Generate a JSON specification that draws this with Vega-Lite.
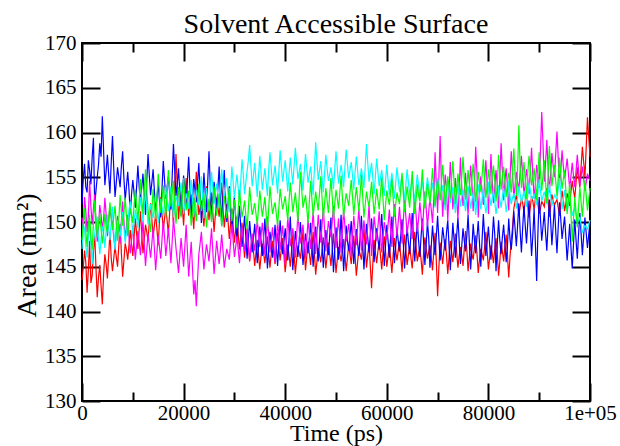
{
"$schema": "https://vega.github.io/schema/vega-lite/v6.json",
"width": 508, "height": 358,
"autosize": {"type": "none"},
"padding": {"left": 82, "top": 43, "right": 30, "bottom": 45},
"background": "white",
"config": {
 "view": {"stroke": "black", "strokeWidth": 2},
 "font": "Liberation Serif",
 "axis": {"domain": false, "grid": false, "tickColor": "black", "tickWidth": 2, "zindex": 1,
  "labelFont": "Liberation Serif", "labelFontSize": 21, "labelColor": "black",
  "titleFont": "Liberation Serif", "titleFontWeight": "normal", "titleColor": "black",
  "labelFlush": false, "labelOverlap": false, "labelBound": false}
},
"title": {"text": "Solvent Accessible Surface", "font": "Liberation Serif", "fontSize": 28, "fontWeight": "normal", "color": "black", "offset": -7},
"data": {"values": [
{"t":0,"r":143.5,"b":152.0,"m":150.5,"c":147.0,"g":148.0},
{"t":250,"r":144.9,"b":154.8,"m":149.3,"c":149.8,"g":149.7},
{"t":500,"r":146.8,"b":156.5,"m":152.8,"c":149.2,"g":151.5},
{"t":750,"r":145.5,"b":153.9,"m":151.2,"c":147.4,"g":149.0},
{"t":1000,"r":142.1,"b":153.3,"m":148.9,"c":146.0,"g":147.2},
{"t":1250,"r":144.6,"b":156.9,"m":150.6,"c":148.5,"g":149.6},
{"t":1500,"r":147.9,"b":155.8,"m":154.6,"c":150.1,"g":150.8},
{"t":1750,"r":143.2,"b":154.2,"m":151.8,"c":147.6,"g":148.2},
{"t":2000,"r":144.0,"b":157.2,"m":149.7,"c":145.3,"g":146.9},
{"t":2250,"r":146.7,"b":159.4,"m":151.5,"c":147.8,"g":149.9},
{"t":2500,"r":148.6,"b":151.9,"m":153.1,"c":148.7,"g":152.4},
{"t":2750,"r":144.9,"b":153.5,"m":150.0,"c":149.9,"g":150.2},
{"t":3000,"r":141.6,"b":155.0,"m":147.8,"c":150.6,"g":148.3},
{"t":3250,"r":143.8,"b":156.4,"m":149.5,"c":148.2,"g":149.8},
{"t":3500,"r":145.2,"b":158.8,"m":151.9,"c":146.4,"g":151.0},
{"t":3750,"r":142.9,"b":157.3,"m":150.8,"c":148.0,"g":149.2},
{"t":4000,"r":140.8,"b":161.8,"m":149.2,"c":149.5,"g":147.6},
{"t":4250,"r":144.1,"b":158.0,"m":150.3,"c":148.8,"g":148.9},
{"t":4500,"r":146.4,"b":154.1,"m":152.7,"c":147.1,"g":150.9},
{"t":4750,"r":145.3,"b":155.7,"m":150.9,"c":149.0,"g":149.5},
{"t":5000,"r":143.7,"b":157.5,"m":148.4,"c":150.8,"g":148.8},
{"t":5250,"r":146.2,"b":155.3,"m":150.1,"c":149.3,"g":150.5},
{"t":5500,"r":148.9,"b":153.2,"m":151.6,"c":148.0,"g":152.2},
{"t":5750,"r":146.0,"b":156.6,"m":150.5,"c":149.8,"g":150.4},
{"t":6000,"r":144.5,"b":159.6,"m":149.9,"c":151.7,"g":149.1},
{"t":6250,"r":145.9,"b":156.0,"m":148.3,"c":149.0,"g":150.6},
{"t":6500,"r":147.3,"b":152.8,"m":146.9,"c":146.9,"g":151.8},
{"t":6750,"r":146.1,"b":154.4,"m":149.2,"c":148.5,"g":149.7},
{"t":7000,"r":145.0,"b":156.1,"m":150.7,"c":150.2,"g":147.9},
{"t":7250,"r":147.4,"b":155.0,"m":149.0,"c":149.1,"g":150.3},
{"t":7500,"r":149.8,"b":153.9,"m":147.6,"c":148.4,"g":153.0},
{"t":7750,"r":146.6,"b":156.2,"m":150.1,"c":149.9,"g":151.1},
{"t":8000,"r":143.9,"b":157.9,"m":152.3,"c":151.1,"g":149.6},
{"t":8250,"r":145.7,"b":154.9,"m":150.2,"c":149.4,"g":151.0},
{"t":8500,"r":147.6,"b":152.4,"m":148.1,"c":147.7,"g":152.7},
{"t":8750,"r":146.9,"b":154.0,"m":149.5,"c":148.8,"g":150.6},
{"t":9000,"r":145.8,"b":155.6,"m":150.8,"c":150.0,"g":148.4},
{"t":9250,"r":147.4,"b":153.6,"m":148.3,"c":151.3,"g":150.1},
{"t":9500,"r":149.1,"b":150.9,"m":146.5,"c":152.3,"g":151.5},
{"t":9750,"r":147.5,"b":153.1,"m":148.0,"c":150.4,"g":150.8},
{"t":10000,"r":146.2,"b":154.7,"m":149.6,"c":148.6,"g":149.9},
{"t":10250,"r":148.3,"b":153.3,"m":147.7,"c":150.0,"g":151.9},
{"t":10500,"r":150.4,"b":151.6,"m":145.8,"c":151.4,"g":153.6},
{"t":10750,"r":148.7,"b":153.9,"m":147.4,"c":150.5,"g":151.8},
{"t":11000,"r":147.0,"b":156.3,"m":149.0,"c":149.3,"g":150.2},
{"t":11250,"r":149.1,"b":154.0,"m":147.8,"c":151.0,"g":152.3},
{"t":11500,"r":151.2,"b":152.1,"m":146.3,"c":152.8,"g":154.8},
{"t":11750,"r":148.8,"b":153.8,"m":148.0,"c":151.5,"g":152.6},
{"t":12000,"r":146.5,"b":155.4,"m":150.2,"c":150.0,"g":150.9},
{"t":12250,"r":148.0,"b":153.2,"m":147.5,"c":151.9,"g":153.4},
{"t":12500,"r":149.7,"b":150.8,"m":145.1,"c":153.5,"g":155.9},
{"t":12750,"r":148.9,"b":154.6,"m":146.9,"c":151.6,"g":153.5},
{"t":13000,"r":147.9,"b":157.6,"m":148.7,"c":149.7,"g":151.4},
{"t":13250,"r":150.0,"b":155.2,"m":147.3,"c":150.8,"g":150.1},
{"t":13500,"r":152.1,"b":153.0,"m":146.0,"c":152.0,"g":148.9},
{"t":13750,"r":150.3,"b":154.4,"m":147.6,"c":151.1,"g":151.3},
{"t":14000,"r":148.3,"b":155.9,"m":149.4,"c":150.4,"g":153.7},
{"t":14250,"r":149.6,"b":153.5,"m":147.0,"c":151.8,"g":152.0},
{"t":14500,"r":150.9,"b":151.2,"m":144.6,"c":153.1,"g":150.3},
{"t":14750,"r":149.2,"b":152.7,"m":146.6,"c":151.5,"g":152.8},
{"t":15000,"r":147.4,"b":154.3,"m":148.5,"c":149.9,"g":155.4},
{"t":15250,"r":150.1,"b":152.4,"m":147.2,"c":151.3,"g":153.3},
{"t":15500,"r":152.8,"b":150.5,"m":145.9,"c":152.6,"g":151.0},
{"t":15750,"r":151.0,"b":153.7,"m":148.0,"c":151.6,"g":152.5},
{"t":16000,"r":149.1,"b":156.8,"m":150.1,"c":150.7,"g":154.1},
{"t":16250,"r":150.4,"b":154.7,"m":148.3,"c":152.2,"g":152.2},
{"t":16500,"r":151.6,"b":152.6,"m":146.2,"c":153.9,"g":150.6},
{"t":16750,"r":150.2,"b":153.9,"m":147.7,"c":152.5,"g":153.1},
{"t":17000,"r":148.7,"b":155.1,"m":149.3,"c":151.2,"g":155.8},
{"t":17250,"r":151.0,"b":153.3,"m":147.4,"c":152.6,"g":153.6},
{"t":17500,"r":153.4,"b":151.4,"m":145.4,"c":154.0,"g":151.7},
{"t":17750,"r":151.7,"b":155.0,"m":147.8,"c":152.2,"g":153.2},
{"t":18000,"r":149.9,"b":158.7,"m":150.4,"c":150.5,"g":154.6},
{"t":18250,"r":154.2,"b":155.8,"m":148.8,"c":151.7,"g":152.1},
{"t":18500,"r":157.6,"b":152.9,"m":147.1,"c":152.9,"g":149.8},
{"t":18750,"r":153.9,"b":154.3,"m":145.7,"c":152.3,"g":151.9},
{"t":19000,"r":150.3,"b":156.0,"m":144.3,"c":151.8,"g":153.9},
{"t":19250,"r":152.1,"b":153.4,"m":146.3,"c":153.1,"g":152.3},
{"t":19500,"r":153.8,"b":150.7,"m":148.2,"c":154.4,"g":150.5},
{"t":19750,"r":151.7,"b":152.9,"m":146.6,"c":152.7,"g":152.7},
{"t":20000,"r":149.6,"b":155.2,"m":145.0,"c":150.9,"g":154.9},
{"t":20250,"r":152.3,"b":153.6,"m":147.3,"c":152.0,"g":153.1},
{"t":20500,"r":154.9,"b":151.9,"m":149.7,"c":153.2,"g":151.3},
{"t":20750,"r":152.8,"b":154.6,"m":146.8,"c":152.4,"g":152.4},
{"t":21000,"r":150.7,"b":157.3,"m":143.9,"c":151.5,"g":153.5},
{"t":21250,"r":151.9,"b":153.8,"m":145.9,"c":153.1,"g":151.5},
{"t":21500,"r":153.1,"b":150.4,"m":147.8,"c":154.7,"g":149.6},
{"t":21750,"r":151.2,"b":152.5,"m":144.8,"c":152.6,"g":151.2},
{"t":22000,"r":149.2,"b":154.8,"m":141.9,"c":150.6,"g":152.8},
{"t":22250,"r":152.4,"b":153.5,"m":143.5,"c":152.1,"g":151.4},
{"t":22500,"r":155.6,"b":152.2,"m":140.6,"c":153.6,"g":150.1},
{"t":22750,"r":153.2,"b":154.4,"m":143.6,"c":152.7,"g":152.2},
{"t":23000,"r":150.8,"b":156.6,"m":146.4,"c":151.9,"g":154.3},
{"t":23250,"r":151.6,"b":153.3,"m":147.6,"c":153.5,"g":152.7},
{"t":23500,"r":152.4,"b":149.9,"m":148.9,"c":155.1,"g":151.2},
{"t":23750,"r":151.0,"b":152.7,"m":146.7,"c":152.8,"g":152.1},
{"t":24000,"r":149.5,"b":155.5,"m":144.7,"c":150.4,"g":153.1},
{"t":24250,"r":151.7,"b":153.3,"m":146.1,"c":152.1,"g":151.3},
{"t":24500,"r":154.0,"b":151.1,"m":147.5,"c":153.8,"g":149.4},
{"t":24750,"r":152.1,"b":154.5,"m":146.6,"c":152.5,"g":151.0},
{"t":25000,"r":150.2,"b":157.9,"m":145.6,"c":151.3,"g":152.6},
{"t":25250,"r":151.8,"b":154.1,"m":147.4,"c":153.4,"g":151.3},
{"t":25500,"r":153.3,"b":150.3,"m":149.3,"c":155.6,"g":150.0},
{"t":25750,"r":151.1,"b":152.4,"m":146.7,"c":153.8,"g":152.0},
{"t":26000,"r":148.9,"b":154.5,"m":144.2,"c":152.0,"g":154.0},
{"t":26250,"r":150.8,"b":153.0,"m":146.0,"c":153.2,"g":152.3},
{"t":26500,"r":152.7,"b":151.5,"m":147.9,"c":154.3,"g":150.7},
{"t":26750,"r":151.6,"b":153.8,"m":146.6,"c":153.0,"g":151.9},
{"t":27000,"r":150.6,"b":156.2,"m":145.3,"c":151.6,"g":153.2},
{"t":27250,"r":152.5,"b":152.9,"m":146.9,"c":153.7,"g":151.4},
{"t":27500,"r":154.4,"b":149.6,"m":148.6,"c":155.9,"g":149.5},
{"t":27750,"r":151.9,"b":152.7,"m":146.8,"c":154.2,"g":151.2},
{"t":28000,"r":149.4,"b":155.8,"m":144.9,"c":152.4,"g":152.9},
{"t":28250,"r":150.7,"b":152.9,"m":146.0,"c":153.6,"g":151.6},
{"t":28500,"r":152.0,"b":150.0,"m":147.0,"c":154.9,"g":150.4},
{"t":28750,"r":150.1,"b":152.0,"m":146.4,"c":153.0,"g":152.1},
{"t":29000,"r":148.1,"b":154.0,"m":145.8,"c":151.1,"g":153.8},
{"t":29250,"r":149.8,"b":151.4,"m":147.8,"c":153.6,"g":151.9},
{"t":29500,"r":151.5,"b":148.8,"m":149.8,"c":156.2,"g":150.1},
{"t":29750,"r":149.6,"b":150.8,"m":148.0,"c":154.5,"g":151.3},
{"t":30000,"r":147.7,"b":152.9,"m":146.1,"c":152.7,"g":152.5},
{"t":30250,"r":149.1,"b":150.4,"m":147.2,"c":154.0,"g":150.9},
{"t":30500,"r":150.6,"b":147.9,"m":148.4,"c":155.3,"g":149.3},
{"t":30750,"r":148.7,"b":149.9,"m":146.9,"c":153.8,"g":151.4},
{"t":31000,"r":146.9,"b":151.8,"m":145.4,"c":152.2,"g":153.6},
{"t":31250,"r":148.4,"b":149.5,"m":147.5,"c":154.6,"g":152.0},
{"t":31500,"r":149.9,"b":147.2,"m":149.5,"c":157.0,"g":150.5},
{"t":31750,"r":147.9,"b":148.9,"m":148.1,"c":155.3,"g":151.4},
{"t":32000,"r":146.0,"b":150.7,"m":146.7,"c":153.1,"g":152.4},
{"t":32250,"r":147.6,"b":148.3,"m":147.9,"c":154.4,"g":150.8},
{"t":32500,"r":149.3,"b":145.9,"m":149.1,"c":155.7,"g":149.2},
{"t":32750,"r":147.4,"b":148.0,"m":147.4,"c":156.9,"g":151.5},
{"t":33000,"r":145.6,"b":150.1,"m":145.7,"c":158.6,"g":153.9},
{"t":33250,"r":147.0,"b":148.4,"m":147.2,"c":156.3,"g":152.3},
{"t":33500,"r":148.5,"b":146.6,"m":148.7,"c":154.0,"g":150.8},
{"t":33750,"r":146.8,"b":148.2,"m":147.7,"c":155.2,"g":151.4},
{"t":34000,"r":145.1,"b":149.8,"m":146.8,"c":156.6,"g":152.1},
{"t":34250,"r":146.6,"b":147.6,"m":148.5,"c":154.7,"g":150.9},
{"t":34500,"r":148.0,"b":145.4,"m":150.2,"c":152.8,"g":149.7},
{"t":34750,"r":146.3,"b":147.4,"m":148.7,"c":155.1,"g":151.6},
{"t":35000,"r":144.7,"b":149.5,"m":147.2,"c":157.4,"g":153.5},
{"t":35250,"r":146.2,"b":147.9,"m":148.6,"c":155.5,"g":152.0},
{"t":35500,"r":147.6,"b":146.2,"m":149.9,"c":153.6,"g":150.6},
{"t":35750,"r":146.5,"b":148.3,"m":148.1,"c":154.8,"g":151.7},
{"t":36000,"r":145.4,"b":150.4,"m":146.3,"c":156.0,"g":152.8},
{"t":36250,"r":146.9,"b":147.5,"m":148.4,"c":154.5,"g":150.9},
{"t":36500,"r":148.4,"b":144.8,"m":150.6,"c":152.9,"g":149.0},
{"t":36750,"r":146.4,"b":146.9,"m":148.6,"c":155.8,"g":151.5},
{"t":37000,"r":144.9,"b":148.9,"m":146.6,"c":157.8,"g":154.0},
{"t":37250,"r":146.4,"b":147.5,"m":148.0,"c":156.0,"g":152.4},
{"t":37500,"r":147.9,"b":146.0,"m":149.4,"c":154.1,"g":150.9},
{"t":37750,"r":146.6,"b":147.8,"m":147.5,"c":155.2,"g":151.6},
{"t":38000,"r":145.3,"b":149.7,"m":145.5,"c":156.3,"g":152.2},
{"t":38250,"r":147.0,"b":147.4,"m":147.8,"c":154.8,"g":150.9},
{"t":38500,"r":148.8,"b":145.1,"m":150.0,"c":153.2,"g":149.6},
{"t":38750,"r":147.2,"b":147.6,"m":148.5,"c":155.6,"g":151.6},
{"t":39000,"r":145.7,"b":150.2,"m":146.9,"c":158.0,"g":153.7},
{"t":39250,"r":147.0,"b":148.3,"m":148.3,"c":156.2,"g":152.5},
{"t":39500,"r":148.2,"b":146.4,"m":149.6,"c":154.5,"g":151.4},
{"t":39750,"r":146.3,"b":147.8,"m":147.4,"c":155.7,"g":152.1},
{"t":40000,"r":144.4,"b":149.3,"m":145.2,"c":156.9,"g":152.9},
{"t":40250,"r":145.9,"b":147.5,"m":147.9,"c":155.2,"g":151.5},
{"t":40500,"r":147.5,"b":145.7,"m":150.5,"c":153.4,"g":150.2},
{"t":40750,"r":146.3,"b":148.1,"m":148.9,"c":155.3,"g":152.3},
{"t":41000,"r":145.0,"b":150.6,"m":147.3,"c":157.2,"g":154.4},
{"t":41250,"r":146.8,"b":147.6,"m":148.3,"c":155.7,"g":152.8},
{"t":41500,"r":148.6,"b":144.6,"m":149.3,"c":154.2,"g":151.1},
{"t":41750,"r":146.4,"b":146.8,"m":147.7,"c":156.3,"g":152.2},
{"t":42000,"r":144.2,"b":149.0,"m":146.0,"c":158.3,"g":153.3},
{"t":42250,"r":145.8,"b":147.6,"m":148.4,"c":156.6,"g":151.7},
{"t":42500,"r":147.3,"b":146.1,"m":150.9,"c":154.8,"g":150.0},
{"t":42750,"r":146.6,"b":148.0,"m":149.2,"c":155.6,"g":152.8},
{"t":43000,"r":145.9,"b":150.0,"m":147.6,"c":156.5,"g":155.6},
{"t":43250,"r":147.4,"b":147.7,"m":148.6,"c":155.0,"g":153.6},
{"t":43500,"r":149.0,"b":145.2,"m":149.7,"c":153.5,"g":151.6},
{"t":43750,"r":146.8,"b":146.9,"m":147.8,"c":155.6,"g":152.3},
{"t":44000,"r":144.6,"b":148.7,"m":145.9,"c":157.6,"g":153.0},
{"t":44250,"r":146.2,"b":147.6,"m":148.1,"c":156.0,"g":151.5},
{"t":44500,"r":147.8,"b":146.5,"m":150.3,"c":154.4,"g":149.9},
{"t":44750,"r":146.5,"b":148.2,"m":148.7,"c":155.3,"g":152.2},
{"t":45000,"r":145.2,"b":149.9,"m":147.0,"c":156.2,"g":154.6},
{"t":45250,"r":147.0,"b":147.5,"m":149.1,"c":154.6,"g":152.6},
{"t":45500,"r":148.9,"b":145.0,"m":151.1,"c":153.0,"g":150.7},
{"t":45750,"r":146.5,"b":147.2,"m":148.8,"c":156.0,"g":152.0},
{"t":46000,"r":144.1,"b":149.5,"m":146.4,"c":158.9,"g":153.4},
{"t":46250,"r":145.6,"b":147.6,"m":148.6,"c":156.8,"g":152.3},
{"t":46500,"r":147.1,"b":145.6,"m":150.8,"c":154.7,"g":151.3},
{"t":46750,"r":146.3,"b":147.9,"m":149.2,"c":155.7,"g":153.2},
{"t":47000,"r":145.5,"b":150.3,"m":147.7,"c":156.8,"g":155.1},
{"t":47250,"r":146.9,"b":147.6,"m":149.7,"c":155.0,"g":152.7},
{"t":47500,"r":148.3,"b":144.9,"m":151.6,"c":153.3,"g":150.4},
{"t":47750,"r":146.6,"b":147.0,"m":149.2,"c":155.4,"g":152.0},
{"t":48000,"r":144.8,"b":149.1,"m":146.7,"c":157.5,"g":153.8},
{"t":48250,"r":146.2,"b":147.7,"m":148.4,"c":156.0,"g":152.4},
{"t":48500,"r":147.7,"b":146.3,"m":150.1,"c":154.6,"g":151.0},
{"t":48750,"r":146.4,"b":148.4,"m":149.2,"c":155.3,"g":153.0},
{"t":49000,"r":145.1,"b":150.5,"m":148.3,"c":156.1,"g":154.9},
{"t":49250,"r":146.9,"b":147.5,"m":150.0,"c":155.1,"g":152.9},
{"t":49500,"r":148.7,"b":144.4,"m":151.8,"c":153.7,"g":150.3},
{"t":49750,"r":146.5,"b":146.9,"m":149.4,"c":155.8,"g":152.0},
{"t":50000,"r":144.3,"b":149.4,"m":147.1,"c":157.9,"g":153.6},
{"t":50250,"r":145.8,"b":147.6,"m":148.8,"c":156.1,"g":152.6},
{"t":50500,"r":147.2,"b":145.8,"m":150.4,"c":154.3,"g":151.5},
{"t":50750,"r":146.4,"b":148.2,"m":148.5,"c":155.4,"g":153.3},
{"t":51000,"r":145.6,"b":150.8,"m":146.5,"c":156.4,"g":155.2},
{"t":51250,"r":146.8,"b":147.7,"m":149.0,"c":155.2,"g":152.8},
{"t":51500,"r":148.1,"b":144.5,"m":151.3,"c":153.9,"g":150.6},
{"t":51750,"r":146.3,"b":147.0,"m":149.6,"c":156.0,"g":152.0},
{"t":52000,"r":144.5,"b":149.6,"m":147.8,"c":158.1,"g":153.2},
{"t":52250,"r":146.0,"b":147.9,"m":148.8,"c":156.5,"g":152.5},
{"t":52500,"r":147.4,"b":146.8,"m":149.8,"c":154.9,"g":151.8},
{"t":52750,"r":146.4,"b":148.5,"m":148.0,"c":155.8,"g":153.3},
{"t":53000,"r":145.3,"b":150.1,"m":146.1,"c":156.7,"g":154.7},
{"t":53250,"r":146.9,"b":147.8,"m":148.5,"c":155.2,"g":152.8},
{"t":53500,"r":148.5,"b":145.3,"m":150.7,"c":153.6,"g":150.8},
{"t":53750,"r":146.3,"b":147.2,"m":149.1,"c":155.5,"g":152.4},
{"t":54000,"r":144.0,"b":149.2,"m":147.4,"c":157.3,"g":153.9},
{"t":54250,"r":145.5,"b":147.7,"m":149.4,"c":155.7,"g":152.6},
{"t":54500,"r":147.0,"b":146.2,"m":151.5,"c":154.1,"g":151.2},
{"t":54750,"r":146.4,"b":148.4,"m":149.1,"c":155.0,"g":153.1},
{"t":55000,"r":145.8,"b":150.7,"m":146.8,"c":156.0,"g":155.3},
{"t":55250,"r":147.4,"b":147.6,"m":148.5,"c":154.9,"g":152.9},
{"t":55500,"r":149.3,"b":144.7,"m":150.2,"c":153.8,"g":150.5},
{"t":55750,"r":147.2,"b":147.3,"m":148.8,"c":156.2,"g":151.9},
{"t":56000,"r":144.9,"b":149.8,"m":147.5,"c":158.7,"g":153.4},
{"t":56250,"r":146.3,"b":148.2,"m":149.6,"c":156.6,"g":152.5},
{"t":56500,"r":147.6,"b":146.6,"m":151.9,"c":154.5,"g":151.7},
{"t":56750,"r":145.1,"b":148.6,"m":149.0,"c":155.6,"g":153.0},
{"t":57000,"r":142.6,"b":150.4,"m":146.2,"c":156.6,"g":154.5},
{"t":57250,"r":145.3,"b":148.0,"m":148.4,"c":154.9,"g":152.7},
{"t":57500,"r":148.0,"b":145.5,"m":150.6,"c":153.1,"g":150.9},
{"t":57750,"r":146.6,"b":147.4,"m":149.3,"c":155.1,"g":152.2},
{"t":58000,"r":145.4,"b":149.3,"m":147.9,"c":157.1,"g":153.7},
{"t":58250,"r":146.7,"b":148.1,"m":149.5,"c":155.6,"g":152.5},
{"t":58500,"r":147.9,"b":146.9,"m":151.2,"c":154.0,"g":151.4},
{"t":58750,"r":146.3,"b":148.9,"m":148.9,"c":154.9,"g":153.2},
{"t":59000,"r":144.7,"b":150.9,"m":146.6,"c":155.8,"g":155.0},
{"t":59250,"r":146.5,"b":148.0,"m":148.3,"c":154.4,"g":152.6},
{"t":59500,"r":148.4,"b":145.1,"m":150.0,"c":152.9,"g":150.2},
{"t":59750,"r":146.7,"b":147.4,"m":149.0,"c":154.6,"g":151.9},
{"t":60000,"r":145.0,"b":149.7,"m":148.0,"c":156.4,"g":153.5},
{"t":60250,"r":146.2,"b":147.9,"m":149.7,"c":154.7,"g":152.7},
{"t":60500,"r":147.5,"b":146.0,"m":151.4,"c":153.0,"g":151.9},
{"t":60750,"r":145.9,"b":148.3,"m":149.3,"c":154.3,"g":153.4},
{"t":61000,"r":144.3,"b":150.6,"m":147.2,"c":155.5,"g":154.8},
{"t":61250,"r":146.3,"b":148.0,"m":149.6,"c":154.0,"g":152.7},
{"t":61500,"r":148.2,"b":145.4,"m":152.0,"c":152.6,"g":150.6},
{"t":61750,"r":146.9,"b":147.3,"m":150.2,"c":154.4,"g":152.0},
{"t":62000,"r":145.7,"b":149.2,"m":148.4,"c":156.1,"g":153.3},
{"t":62250,"r":146.8,"b":147.9,"m":150.0,"c":154.8,"g":152.6},
{"t":62500,"r":147.8,"b":146.7,"m":151.7,"c":153.4,"g":152.0},
{"t":62750,"r":146.1,"b":148.5,"m":149.6,"c":154.3,"g":153.7},
{"t":63000,"r":144.4,"b":150.3,"m":147.6,"c":155.2,"g":155.5},
{"t":63250,"r":146.6,"b":147.6,"m":150.1,"c":153.8,"g":153.2},
{"t":63500,"r":148.6,"b":144.8,"m":152.5,"c":152.4,"g":151.1},
{"t":63750,"r":146.9,"b":147.2,"m":150.6,"c":154.2,"g":152.6},
{"t":64000,"r":145.2,"b":149.5,"m":148.7,"c":155.9,"g":154.0},
{"t":64250,"r":146.3,"b":147.8,"m":149.9,"c":154.5,"g":152.8},
{"t":64500,"r":147.3,"b":146.4,"m":151.0,"c":153.0,"g":151.6},
{"t":64750,"r":146.0,"b":148.6,"m":149.5,"c":153.9,"g":153.6},
{"t":65000,"r":144.8,"b":151.0,"m":148.1,"c":154.8,"g":155.7},
{"t":65250,"r":146.9,"b":148.2,"m":150.5,"c":153.6,"g":153.1},
{"t":65500,"r":148.9,"b":145.6,"m":153.0,"c":152.2,"g":150.9},
{"t":65750,"r":147.3,"b":147.8,"m":150.9,"c":153.9,"g":152.4},
{"t":66000,"r":145.6,"b":149.9,"m":148.9,"c":155.3,"g":154.2},
{"t":66250,"r":146.4,"b":148.0,"m":150.3,"c":154.1,"g":153.0},
{"t":66500,"r":147.1,"b":146.1,"m":152.2,"c":152.7,"g":152.3},
{"t":66750,"r":145.8,"b":148.4,"m":150.7,"c":153.5,"g":153.8},
{"t":67000,"r":144.1,"b":150.4,"m":149.0,"c":154.6,"g":155.9},
{"t":67250,"r":146.6,"b":147.7,"m":151.3,"c":153.3,"g":153.4},
{"t":67500,"r":148.3,"b":145.2,"m":153.4,"c":151.9,"g":151.5},
{"t":67750,"r":147.0,"b":147.5,"m":151.6,"c":153.7,"g":152.8},
{"t":68000,"r":145.9,"b":150.0,"m":149.5,"c":155.0,"g":154.3},
{"t":68250,"r":146.7,"b":148.2,"m":151.1,"c":153.9,"g":153.2},
{"t":68500,"r":147.4,"b":144.9,"m":152.8,"c":152.3,"g":152.1},
{"t":68750,"r":146.0,"b":147.3,"m":151.4,"c":153.4,"g":154.0},
{"t":69000,"r":144.6,"b":149.6,"m":149.9,"c":154.4,"g":156.0},
{"t":69250,"r":146.8,"b":147.8,"m":152.7,"c":153.1,"g":153.9},
{"t":69500,"r":148.8,"b":146.3,"m":157.8,"c":151.6,"g":151.8},
{"t":69750,"r":145.6,"b":148.4,"m":154.2,"c":153.5,"g":153.1},
{"t":70000,"r":141.7,"b":150.7,"m":151.0,"c":154.9,"g":154.6},
{"t":70250,"r":144.9,"b":148.1,"m":155.0,"c":153.8,"g":153.6},
{"t":70500,"r":147.7,"b":145.7,"m":159.6,"c":152.5,"g":152.4},
{"t":70750,"r":146.5,"b":147.5,"m":154.4,"c":153.2,"g":154.3},
{"t":71000,"r":145.3,"b":149.4,"m":150.6,"c":154.1,"g":156.4},
{"t":71250,"r":146.9,"b":148.2,"m":153.1,"c":152.8,"g":154.2},
{"t":71500,"r":148.1,"b":146.8,"m":155.3,"c":151.3,"g":151.9},
{"t":71750,"r":146.3,"b":148.8,"m":153.7,"c":153.4,"g":153.5},
{"t":72000,"r":144.2,"b":150.2,"m":150.1,"c":154.7,"g":155.1},
{"t":72250,"r":146.0,"b":147.4,"m":153.4,"c":153.3,"g":153.9},
{"t":72500,"r":147.9,"b":144.6,"m":156.7,"c":152.1,"g":152.6},
{"t":72750,"r":146.7,"b":147.2,"m":154.3,"c":152.9,"g":154.8},
{"t":73000,"r":145.5,"b":149.9,"m":151.4,"c":153.9,"g":156.8},
{"t":73250,"r":147.1,"b":148.0,"m":153.2,"c":152.6,"g":154.4},
{"t":73500,"r":148.7,"b":146.0,"m":154.9,"c":151.0,"g":152.0},
{"t":73750,"r":146.6,"b":148.5,"m":152.8,"c":152.7,"g":153.6},
{"t":74000,"r":144.9,"b":150.5,"m":150.3,"c":154.3,"g":155.4},
{"t":74250,"r":146.2,"b":147.9,"m":153.6,"c":153.0,"g":154.0},
{"t":74500,"r":147.2,"b":145.3,"m":157.2,"c":151.7,"g":153.0},
{"t":74750,"r":146.3,"b":147.3,"m":154.0,"c":152.8,"g":155.0},
{"t":75000,"r":145.1,"b":149.3,"m":151.8,"c":153.6,"g":157.3},
{"t":75250,"r":147.0,"b":147.9,"m":153.5,"c":152.3,"g":154.9},
{"t":75500,"r":149.0,"b":146.7,"m":155.5,"c":151.2,"g":152.5},
{"t":75750,"r":146.9,"b":148.4,"m":152.9,"c":152.6,"g":154.1},
{"t":76000,"r":144.5,"b":150.8,"m":150.8,"c":154.0,"g":155.8},
{"t":76250,"r":146.0,"b":147.7,"m":153.8,"c":152.9,"g":154.2},
{"t":76500,"r":147.6,"b":144.7,"m":156.3,"c":151.5,"g":152.9},
{"t":76750,"r":146.4,"b":147.1,"m":154.4,"c":152.4,"g":154.8},
{"t":77000,"r":145.8,"b":149.8,"m":151.2,"c":153.3,"g":156.5},
{"t":77250,"r":147.1,"b":148.0,"m":153.9,"c":152.2,"g":154.6},
{"t":77500,"r":148.5,"b":146.5,"m":158.4,"c":150.8,"g":152.2},
{"t":77750,"r":146.5,"b":148.3,"m":155.5,"c":152.5,"g":153.9},
{"t":78000,"r":144.3,"b":150.1,"m":150.5,"c":154.2,"g":155.6},
{"t":78250,"r":145.8,"b":147.6,"m":153.2,"c":152.9,"g":154.3},
{"t":78500,"r":147.0,"b":145.0,"m":155.1,"c":151.4,"g":153.4},
{"t":78750,"r":146.4,"b":147.9,"m":153.5,"c":152.6,"g":155.2},
{"t":79000,"r":145.7,"b":150.9,"m":151.9,"c":153.7,"g":157.0},
{"t":79250,"r":147.2,"b":148.5,"m":154.6,"c":152.1,"g":154.8},
{"t":79500,"r":148.9,"b":146.2,"m":156.9,"c":151.0,"g":152.7},
{"t":79750,"r":146.8,"b":147.8,"m":154.3,"c":152.0,"g":154.0},
{"t":80000,"r":144.7,"b":149.5,"m":150.9,"c":154.5,"g":155.9},
{"t":80250,"r":146.0,"b":147.4,"m":154.0,"c":152.8,"g":154.6},
{"t":80500,"r":147.4,"b":145.8,"m":157.6,"c":151.8,"g":153.1},
{"t":80750,"r":146.5,"b":148.0,"m":154.7,"c":152.7,"g":155.1},
{"t":81000,"r":145.4,"b":150.6,"m":152.1,"c":153.5,"g":156.3},
{"t":81250,"r":147.0,"b":148.6,"m":153.8,"c":152.3,"g":154.7},
{"t":81500,"r":148.2,"b":144.5,"m":155.8,"c":150.9,"g":152.3},
{"t":81750,"r":146.4,"b":147.6,"m":154.1,"c":152.0,"g":154.2},
{"t":82000,"r":144.0,"b":150.2,"m":151.5,"c":154.1,"g":157.5},
{"t":82250,"r":145.6,"b":147.9,"m":155.0,"c":152.5,"g":155.4},
{"t":82500,"r":147.8,"b":146.4,"m":158.8,"c":151.6,"g":153.6},
{"t":82750,"r":146.7,"b":148.3,"m":155.7,"c":152.8,"g":155.2},
{"t":83000,"r":145.6,"b":149.7,"m":152.4,"c":153.8,"g":156.2},
{"t":83250,"r":147.3,"b":147.6,"m":154.6,"c":152.6,"g":154.5},
{"t":83500,"r":148.6,"b":145.5,"m":156.0,"c":151.1,"g":152.8},
{"t":83750,"r":146.3,"b":147.3,"m":154.0,"c":152.1,"g":154.3},
{"t":84000,"r":143.8,"b":150.4,"m":151.3,"c":154.6,"g":155.5},
{"t":84250,"r":146.1,"b":148.1,"m":154.8,"c":152.9,"g":154.7},
{"t":84500,"r":148.0,"b":146.9,"m":157.9,"c":152.0,"g":153.3},
{"t":84750,"r":149.4,"b":148.6,"m":155.4,"c":152.7,"g":155.6},
{"t":85000,"r":151.5,"b":151.2,"m":152.7,"c":153.2,"g":158.2},
{"t":85250,"r":152.3,"b":149.3,"m":154.1,"c":152.4,"g":155.3},
{"t":85500,"r":153.0,"b":147.3,"m":155.6,"c":151.5,"g":152.9},
{"t":85750,"r":152.0,"b":149.6,"m":154.4,"c":152.6,"g":155.9},
{"t":86000,"r":150.8,"b":152.1,"m":153.6,"c":154.0,"g":160.8},
{"t":86250,"r":151.7,"b":149.0,"m":155.6,"c":153.1,"g":156.1},
{"t":86500,"r":152.6,"b":146.6,"m":157.4,"c":152.2,"g":153.8},
{"t":86750,"r":152.1,"b":149.4,"m":155.3,"c":152.8,"g":155.2},
{"t":87000,"r":151.1,"b":151.8,"m":152.9,"c":153.5,"g":156.7},
{"t":87250,"r":152.4,"b":149.6,"m":154.3,"c":152.6,"g":154.8},
{"t":87500,"r":153.4,"b":147.6,"m":155.9,"c":151.7,"g":152.6},
{"t":87750,"r":151.8,"b":149.9,"m":154.8,"c":153.0,"g":155.5},
{"t":88000,"r":150.5,"b":152.4,"m":153.1,"c":154.4,"g":157.4},
{"t":88250,"r":151.6,"b":149.2,"m":155.7,"c":153.5,"g":155.9},
{"t":88500,"r":152.9,"b":146.2,"m":158.3,"c":152.5,"g":154.1},
{"t":88750,"r":152.3,"b":148.5,"m":155.1,"c":152.8,"g":155.0},
{"t":89000,"r":151.4,"b":151.5,"m":152.6,"c":153.1,"g":156.0},
{"t":89250,"r":152.6,"b":147.6,"m":154.2,"c":152.5,"g":154.4},
{"t":89500,"r":153.6,"b":143.4,"m":156.4,"c":151.9,"g":152.4},
{"t":89750,"r":152.0,"b":148.8,"m":155.3,"c":153.3,"g":155.4},
{"t":90000,"r":150.9,"b":152.8,"m":153.8,"c":154.8,"g":157.8},
{"t":90250,"r":151.5,"b":150.4,"m":158.0,"c":153.5,"g":155.6},
{"t":90500,"r":152.3,"b":147.9,"m":162.3,"c":152.3,"g":153.5},
{"t":90750,"r":152.0,"b":149.5,"m":158.7,"c":152.9,"g":155.2},
{"t":91000,"r":151.7,"b":151.1,"m":154.5,"c":153.4,"g":156.9},
{"t":91250,"r":152.9,"b":148.8,"m":156.5,"c":152.7,"g":154.5},
{"t":91500,"r":153.8,"b":146.8,"m":159.2,"c":152.0,"g":152.1},
{"t":91750,"r":152.3,"b":149.7,"m":156.1,"c":153.1,"g":155.3},
{"t":92000,"r":150.6,"b":152.5,"m":153.3,"c":154.2,"g":158.5},
{"t":92250,"r":151.7,"b":150.1,"m":155.4,"c":152.9,"g":156.2},
{"t":92500,"r":153.1,"b":147.4,"m":157.7,"c":151.8,"g":154.0},
{"t":92750,"r":152.4,"b":149.6,"m":156.3,"c":152.4,"g":155.3},
{"t":93000,"r":151.9,"b":151.9,"m":155.0,"c":153.0,"g":156.4},
{"t":93250,"r":152.2,"b":149.0,"m":157.6,"c":152.8,"g":154.6},
{"t":93500,"r":152.5,"b":146.5,"m":160.1,"c":152.6,"g":152.9},
{"t":93750,"r":151.6,"b":149.5,"m":157.1,"c":153.8,"g":154.9},
{"t":94000,"r":150.7,"b":152.2,"m":154.2,"c":154.9,"g":157.2},
{"t":94250,"r":152.0,"b":150.3,"m":155.8,"c":153.2,"g":155.4},
{"t":94500,"r":153.5,"b":148.1,"m":158.0,"c":151.4,"g":153.7},
{"t":94750,"r":152.5,"b":149.4,"m":156.2,"c":152.5,"g":154.8},
{"t":95000,"r":151.2,"b":150.6,"m":154.9,"c":153.6,"g":155.8},
{"t":95250,"r":152.1,"b":148.2,"m":155.9,"c":152.4,"g":153.5},
{"t":95500,"r":153.2,"b":145.7,"m":157.1,"c":151.2,"g":150.9},
{"t":95750,"r":152.6,"b":147.7,"m":155.4,"c":152.1,"g":152.6},
{"t":96000,"r":151.8,"b":149.8,"m":153.7,"c":152.9,"g":154.3},
{"t":96250,"r":153.4,"b":147.2,"m":155.1,"c":151.8,"g":151.0},
{"t":96500,"r":154.6,"b":144.8,"m":156.6,"c":150.7,"g":147.8},
{"t":96750,"r":153.5,"b":147.5,"m":155.2,"c":151.2,"g":150.3},
{"t":97000,"r":152.7,"b":150.3,"m":153.9,"c":151.6,"g":152.8},
{"t":97250,"r":154.4,"b":148.0,"m":155.7,"c":150.8,"g":151.1},
{"t":97500,"r":156.1,"b":145.9,"m":157.5,"c":149.9,"g":149.4},
{"t":97750,"r":155.0,"b":148.6,"m":155.8,"c":150.2,"g":151.7},
{"t":98000,"r":153.9,"b":151.0,"m":154.1,"c":150.5,"g":153.9},
{"t":98250,"r":156.2,"b":148.7,"m":155.1,"c":149.7,"g":152.2},
{"t":98500,"r":158.4,"b":146.3,"m":156.2,"c":148.8,"g":150.6},
{"t":98750,"r":156.7,"b":148.4,"m":154.9,"c":149.2,"g":152.6},
{"t":99000,"r":155.0,"b":150.5,"m":153.5,"c":149.6,"g":154.7},
{"t":99250,"r":158.3,"b":148.8,"m":154.4,"c":149.4,"g":153.0},
{"t":99500,"r":161.7,"b":147.1,"m":155.4,"c":149.2,"g":151.3},
{"t":99750,"r":159.5,"b":148.6,"m":155.0,"c":149.7,"g":152.5},
{"t":100000,"r":157.3,"b":150.0,"m":154.6,"c":150.2,"g":153.8}
]},
"layer": [
 {"mark": {"type": "line", "color": "#ff0000", "strokeWidth": 1.2},
  "encoding": {
   "x": {"field": "t", "type": "quantitative", "scale": {"domain": [0, 100000], "nice": false, "zero": false},
    "axis": {"orient": "bottom", "values": [0, 20000, 40000, 60000, 80000, 100000], "tickSize": -18, "labelPadding": 19,
     "labelExpr": "datum.value >= 100000 ? '1e+05' : format(datum.value, 'd')", "title": "Time (ps)", "titleFontSize": 24, "titlePadding": -2}},
   "y": {"field": "r", "type": "quantitative", "scale": {"domain": [130, 170], "nice": false, "zero": false},
    "axis": {"orient": "left", "values": [130, 135, 140, 145, 150, 155, 160, 165, 170], "tickSize": -18, "labelPadding": 24,
     "format": "d", "title": "Area (nm²)", "titleFontSize": 28, "titlePadding": 3, "titleY": 212}}
  }},
 {"mark": {"type": "line", "color": "#0000ff", "strokeWidth": 1.2},
  "encoding": {
   "x": {"field": "t", "type": "quantitative",
    "axis": {"orient": "top", "values": [0, 20000, 40000, 60000, 80000, 100000], "tickSize": -18, "labels": false, "title": null}},
   "y": {"field": "b", "type": "quantitative",
    "axis": {"orient": "right", "values": [130, 135, 140, 145, 150, 155, 160, 165, 170], "tickSize": -18, "labels": false, "title": null}}
  }},
 {"mark": {"type": "line", "color": "#ff00ff", "strokeWidth": 1.2},
  "encoding": {
   "x": {"field": "t", "type": "quantitative",
    "axis": {"orient": "bottom", "values": [10000, 30000, 50000, 70000, 90000], "tickSize": -9, "labels": false, "title": null}},
   "y": {"field": "m", "type": "quantitative", "axis": null}
  }},
 {"mark": {"type": "line", "color": "#00ffff", "strokeWidth": 1.2},
  "encoding": {
   "x": {"field": "t", "type": "quantitative",
    "axis": {"orient": "top", "values": [10000, 30000, 50000, 70000, 90000], "tickSize": -9, "labels": false, "title": null}},
   "y": {"field": "c", "type": "quantitative", "axis": null}
  }},
 {"mark": {"type": "line", "color": "#00ff00", "strokeWidth": 1.2},
  "encoding": {
   "x": {"field": "t", "type": "quantitative", "axis": null},
   "y": {"field": "g", "type": "quantitative", "axis": null}
  }}
],
"resolve": {"axis": {"x": "independent", "y": "independent"}}
}
